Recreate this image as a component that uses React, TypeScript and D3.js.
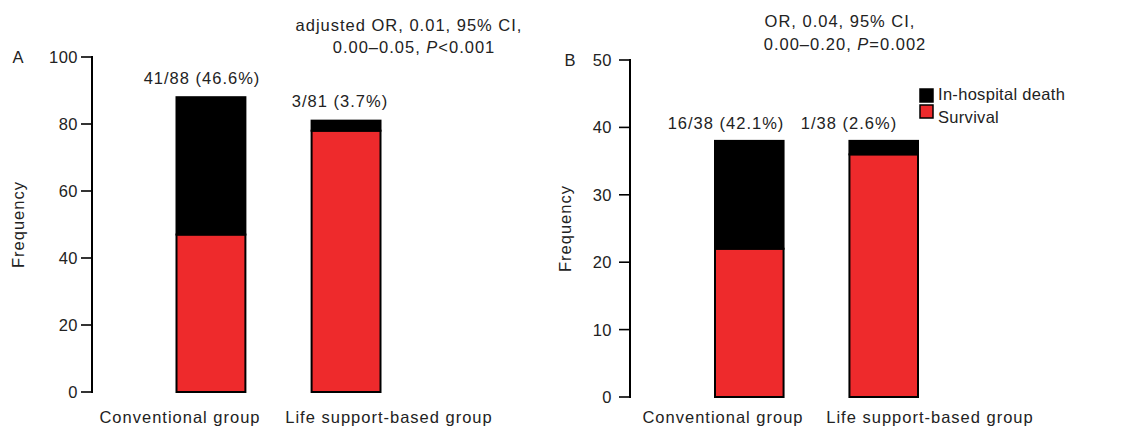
import React from "react";
import * as d3 from "d3";

const groups = ["Conventional group", "Life support-based group"];
const seriesNames = ["In-hospital death", "Survival"];
// Panel A
const deathA = [41, 3];
const survivalA = [47, 78];
const labelsA = ["41/88 (46.6%)", "3/81 (3.7%)"];
// Panel B
const deathB = [16, 2];
const survivalB = [22, 36];
const labelsB = ["16/38 (42.1%)", "1/38 (2.6%)"];

const RED = "#EE2A2C";
const FONT = "'Liberation Sans', Arial, Helvetica, sans-serif";
const FS = 16.5;
const LS = 1;

type PanelProps = {
  letter: string;
  death: number[];
  survival: number[];
  labels: string[];
  yMax: number;
  yRange: [number, number];
  axisX: number;
  barRange: [number, number];
  catLabelRange: [number, number];
  valueLabelY: number[];
  valueLabelX: number[];
  tickLabelGap: number;
  letterPos: [number, number];
  freqX: number;
};

function Panel(p: PanelProps) {
  const y = d3.scaleLinear().domain([0, p.yMax]).range(p.yRange);
  const x = d3.scaleBand<string>().domain(groups).range(p.barRange).paddingInner(0.49).paddingOuter(0);
  const xl = d3.scalePoint<string>().domain(groups).range(p.catLabelRange);
  const ticks = y.ticks(5);
  const stack = d3.stack<any>().keys(["survival", "death"])(
    groups.map((g, i) => ({ g, survival: p.survival[i], death: p.death[i] }))
  );
  const colors: Record<string, string> = { survival: RED, death: "#000" };
  const midY = (p.yRange[0] + p.yRange[1]) / 2;
  return (
    <g>
      <text x={p.letterPos[0]} y={p.letterPos[1]} fontSize={FS} textAnchor="middle" dominantBaseline="central">{p.letter}</text>
      <text transform={`translate(${p.freqX},${midY}) rotate(-90)`} fontSize={FS} letterSpacing={LS} textAnchor="middle" dominantBaseline="central">Frequency</text>
      {stack.map((s) =>
        s.map((d, i) => (
          <rect
            key={s.key + i}
            x={x(groups[i])}
            width={x.bandwidth()}
            y={y(d[1])}
            height={y(d[0]) - y(d[1])}
            fill={colors[s.key]}
            stroke="#000"
            strokeWidth={2}
          />
        ))
      )}
      <line x1={p.axisX} x2={p.axisX} y1={y(0) + 1} y2={y(p.yMax) - 1} stroke="#000" strokeWidth={2} />
      {ticks.map((t) => (
        <g key={t}>
          <line x1={p.axisX - 11} x2={p.axisX} y1={y(t)} y2={y(t)} stroke="#000" strokeWidth={1.6} />
          <text x={p.axisX - p.tickLabelGap} y={y(t)} fontSize={FS} letterSpacing={0.5} textAnchor="end" dominantBaseline="central">{t}</text>
        </g>
      ))}
      {groups.map((g, i) => (
        <text key={g} x={xl(g)} y={423} fontSize={FS} letterSpacing={LS} textAnchor="middle">{g}</text>
      ))}
      {p.labels.map((l, i) => (
        <text key={l} x={p.valueLabelX[i]} y={p.valueLabelY[i]} fontSize={FS} letterSpacing={LS} textAnchor="middle">{l}</text>
      ))}
    </g>
  );
}

export default function App() {
  return (
    <svg width={1130} height={427} style={{ position: "absolute", left: 0, top: 0, background: "#fff" }} fontFamily={FONT} fill="#222">
      <rect width={1130} height={427} fill="#fff" />
      <Panel
        letter="A"
        death={deathA}
        survival={survivalA}
        labels={labelsA}
        yMax={100}
        yRange={[392, 57]}
        axisX={92}
        barRange={[176.5, 380.5]}
        catLabelRange={[180, 389]}
        valueLabelX={[202, 340]}
        valueLabelY={[84, 107]}
        tickLabelGap={14}
        letterPos={[18, 57]}
        freqX={18}
      />
      <Panel
        letter="B"
        death={deathB}
        survival={survivalB}
        labels={labelsB}
        yMax={50}
        yRange={[397, 60]}
        axisX={630}
        barRange={[715, 918]}
        catLabelRange={[723, 930]}
        valueLabelX={[726, 849]}
        valueLabelY={[129, 129]}
        tickLabelGap={18}
        letterPos={[570, 60]}
        freqX={565}
      />
      <g fontSize={FS} letterSpacing={LS} textAnchor="middle">
        <text x={409} y={31}>adjusted OR, 0.01, 95% CI,</text>
        <text x={414} y={53}>0.00–0.05, <tspan fontStyle="italic">P</tspan>&lt;0.001</text>
        <text x={840} y={27}>OR, 0.04, 95% CI,</text>
        <text x={845} y={50}>0.00–0.20, <tspan fontStyle="italic">P</tspan>=0.002</text>
      </g>
      <g>
        {seriesNames.map((s, i) => (
          <g key={s}>
            <rect x={920} y={89 + i * 16} width={13} height={13} fill={i === 0 ? "#000" : RED} stroke="#000" strokeWidth={1.5} />
            <text x={938} y={100 + i * 23} fontSize={FS} letterSpacing={0.3}>{s}</text>
          </g>
        ))}
      </g>
    </svg>
  );
}
